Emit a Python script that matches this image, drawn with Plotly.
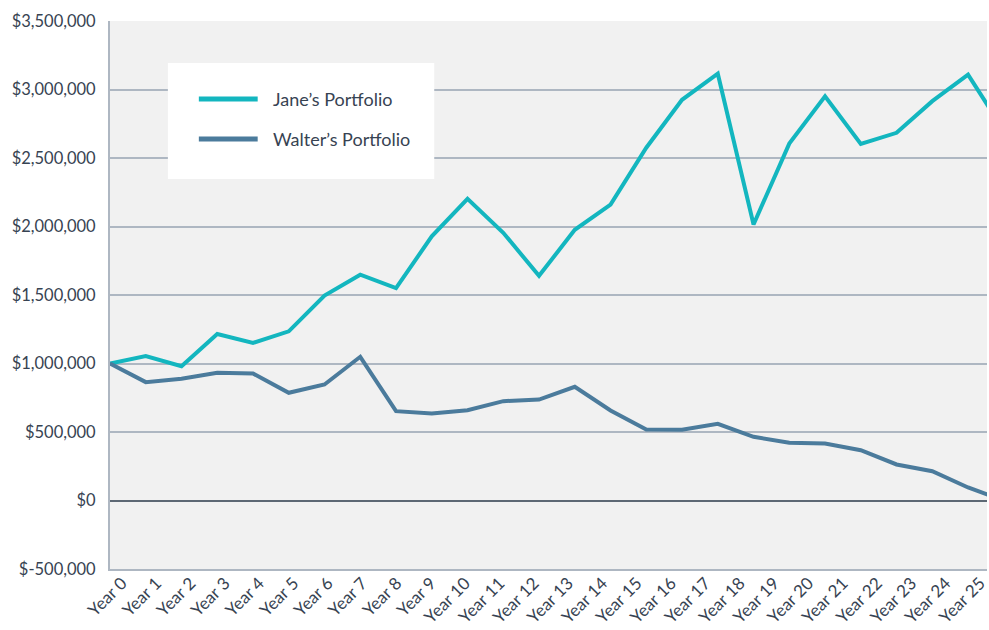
import plotly.graph_objects as go

# ---- data ----
year_labels = ["Year 0", "Year 1", "Year 2", "Year 3", "Year 4", "Year 5", "Year 6",
               "Year 7", "Year 8", "Year 9", "Year 10", "Year 11", "Year 12", "Year 13",
               "Year 14", "Year 15", "Year 16", "Year 17", "Year 18", "Year 19", "Year 20",
               "Year 21", "Year 22", "Year 23", "Year 24", "Year 25"]
jane_values = [1000000, 1055000, 980000, 1215000, 1150000, 1235000, 1496000,
               1648000, 1550000, 1928000, 2202000, 1954000, 1640000, 1976000,
               2160000, 2575000, 2925000, 3115000, 2015000, 2605000, 2950000,
               2603000, 2684000, 2915000, 3108000, 2700000]
walter_values = [1000000, 864000, 888000, 932000, 927000, 786000, 847000,
                 1049000, 652000, 635000, 659000, 725000, 737000, 830000,
                 657000, 518000, 516000, 560000, 465000, 421000, 416000,
                 367000, 263000, 214000, 95000, 0]
series_names = ["Jane’s Portfolio", "Walter’s Portfolio"]
y_tick_values = [-500000, 0, 500000, 1000000, 1500000, 2000000, 2500000, 3000000, 3500000]
y_tick_labels = ["$-500,000", "$0", "$500,000", "$1,000,000", "$1,500,000",
                 "$2,000,000", "$2,500,000", "$3,000,000", "$3,500,000"]

# ---- style ----
JANE = "#13b6bf"
WALTER = "#4b7b9c"
TEXT = "#374352"
GRID = "#aeb7c2"
FONT = "Lato, 'Open Sans', sans-serif"

x_pos = list(range(len(year_labels)))

fig = go.Figure()
fig.add_trace(go.Scatter(x=x_pos, y=jane_values, mode="lines", name=series_names[0],
                         line=dict(color=JANE, width=4), showlegend=False))
fig.add_trace(go.Scatter(x=x_pos, y=walter_values, mode="lines", name=series_names[1],
                         line=dict(color=WALTER, width=4), showlegend=False))
# helper trace carrying the category tick labels
fig.add_trace(go.Scatter(x=year_labels, y=[None] * len(year_labels), xaxis="x2",
                         mode="lines", showlegend=False, hoverinfo="skip"))

fig.update_layout(
    width=989, height=630,
    margin=dict(l=110, r=0, t=21, b=61),
    paper_bgcolor="white",
    plot_bgcolor="#f1f1f1",
    font=dict(family=FONT, color=TEXT, size=17),
    xaxis=dict(range=[0, 24.53], showticklabels=False, showgrid=False, zeroline=False,
               showline=True, linecolor=GRID, linewidth=2, ticks=""),
    xaxis2=dict(type="category", overlaying="x", side="bottom", anchor="y",
                range=[-0.35, 25.2], tickangle=-45, showgrid=False, zeroline=False,
                showline=False, ticks="", tickfont=dict(size=17, color=TEXT)),
    yaxis=dict(range=[-500000, 3500000], tickvals=y_tick_values, ticktext=y_tick_labels,
               showgrid=True, gridcolor=GRID, gridwidth=1.5,
               zeroline=True, zerolinecolor="#5d6874", zerolinewidth=2,
               showline=True, linecolor=GRID, linewidth=2, ticks="",
               ticklabelstandoff=9,
               tickfont=dict(size=16.5, color=TEXT)),
)

# ---- legend box drawn manually ----
fig.add_shape(type="rect", xref="paper", yref="paper", x0=0.066, x1=0.3697,
              y0=0.7117, y1=0.9234, fillcolor="white", line=dict(width=0), layer="above")
for i, (name, color) in enumerate(zip(series_names, [JANE, WALTER])):
    yy = 0.8577 - i * 0.073
    fig.add_shape(type="line", xref="paper", yref="paper", x0=0.1013, x1=0.1684,
                  y0=yy, y1=yy, line=dict(color=color, width=5), layer="above")
    fig.add_annotation(xref="paper", yref="paper", x=0.1832, y=yy, text=name,
                       showarrow=False, xanchor="left", yanchor="middle",
                       font=dict(size=18, color=TEXT, family=FONT))

fig.write_html(
    "out.html",
    config={"displayModeBar": False},
    post_script="document.body.style.margin='0';"
                "document.body.style.overflow='hidden';"
                "document.documentElement.style.overflow='hidden';",
)
